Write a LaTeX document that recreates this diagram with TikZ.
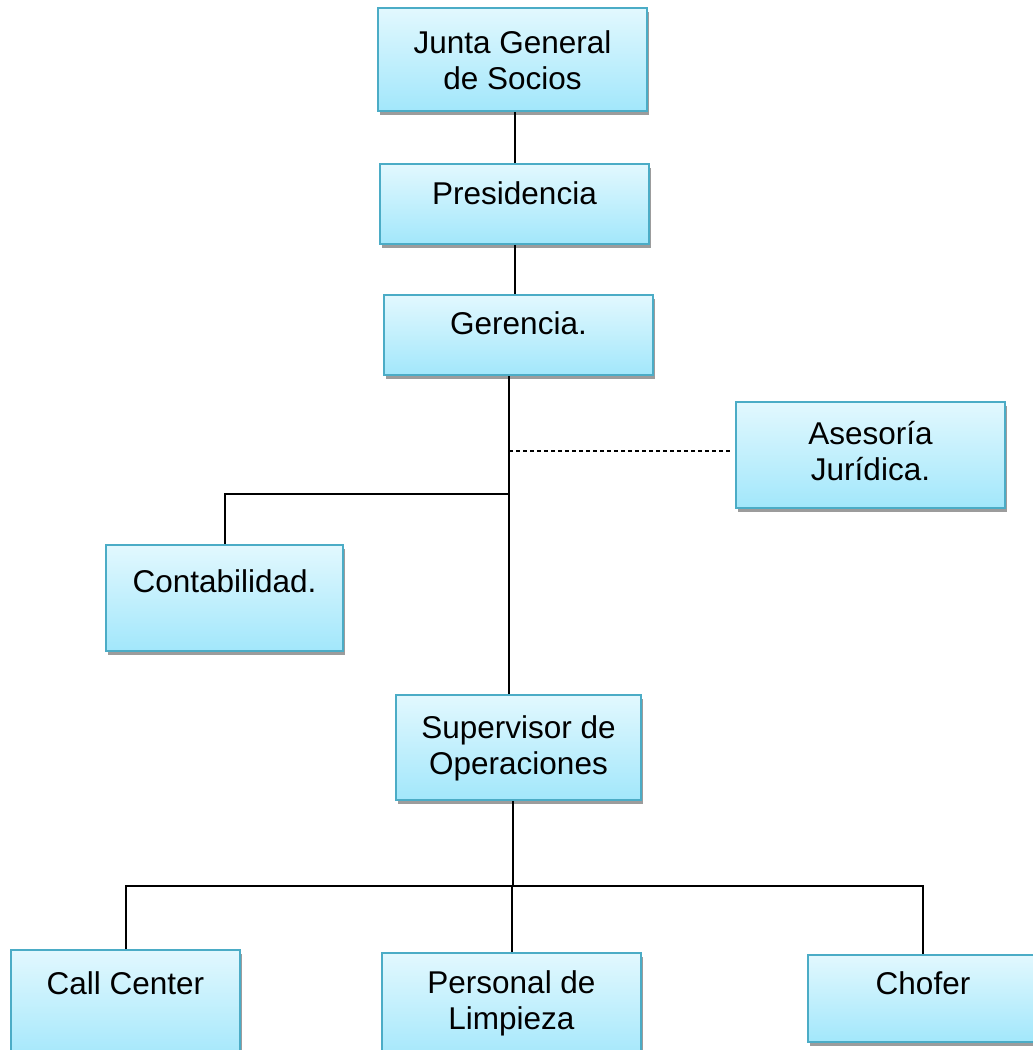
\documentclass[tikz,border=0pt]{standalone}
\usepackage{fontspec}
\setmainfont{Liberation Sans}
\usetikzlibrary{shadows}
\definecolor{boxtop}{HTML}{E2F8FE}
\definecolor{boxbot}{HTML}{A2E7FB}
\definecolor{boxline}{HTML}{4BACC6}
\definecolor{shade}{HTML}{9C9C9C}
\tikzset{
  orgbox/.style={rectangle, draw=boxline, line width=1.6pt, inner sep=0pt,
    top color=boxtop, bottom color=boxbot,
    drop shadow={shadow xshift=2pt, shadow yshift=-4pt, fill=shade, opacity=1}},
  boxtext/.style={anchor=base, align=center, inner sep=0pt,
    font=\fontsize{31.5}{36}\selectfont},
  link/.style={draw=black, line width=2pt},
  advice/.style={draw=black, line width=1.6pt, dash pattern=on 4pt off 3pt}
}
% place a box from its corners: #1 name, (#2,#3) top left, (#4,#5) bottom right
\newcommand{\orgunit}[5]{%
  \node[orgbox, minimum width={#4-#2}, minimum height={#5-#3}]
    (#1) at ({(#2+#4)/2},{(#3+#5)/2}) {};}
\begin{document}
\begin{tikzpicture}[x=1pt, y=-1pt]
\useasboundingbox (0,0) rectangle (1033,1050);
\clip (0,0) rectangle (1033,1050);

% boxes
\orgunit{junta}{378}{8}{647}{111}
\orgunit{pres}{380}{164}{649}{244}
\orgunit{ger}{384}{295}{653}{375}
\orgunit{ase}{736}{402}{1005}{508}
\orgunit{con}{106}{545}{343}{651}
\orgunit{sup}{396}{695}{641}{800}
\orgunit{call}{11}{950}{240}{1062}
\orgunit{lim}{382}{953}{641}{1062}
\orgunit{chof}{808}{955}{1038}{1042}

% labels (anchored on the baseline of the last line)
\node[boxtext] (tjunta) at ([yshift=-82pt]junta.north) {Junta General\\de Socios};
\node[boxtext] (tpres) at ([yshift=-41pt]pres.north) {Presidencia};
\node[boxtext] (tger) at ([yshift=-40pt]ger.north) {Gerencia.};
\node[boxtext] (tase) at ([yshift=-79pt]ase.north) {Asesoría\\Jurídica.};
\node[boxtext] (tcon) at ([yshift=-48pt]con.north) {Contabilidad.};
\node[boxtext] (tsup) at ([yshift=-80pt]sup.north) {Supervisor de\\Operaciones};
\node[boxtext] (tcall) at ([yshift=-45pt]call.north) {Call Center};
\node[boxtext] (tlim) at ([yshift=-77pt]lim.north) {Personal de\\Limpieza};
\node[boxtext] (tchof) at ([yshift=-40pt]chof.north) {Chofer};

% trunk points and buses
\coordinate (gtrunk) at ([xshift=-9.5pt]ger.south);
\coordinate (aseend) at ([yshift=4pt]ase.west);
\coordinate (cjunc) at (509,494);
\coordinate (strunk) at ([xshift=-5.5pt]sup.south);
\coordinate (bus) at (513,886);

% connectors
\draw[link] (pres.north) -- (pres.north |- junta.south);
\draw[link] (pres.south) -- (pres.south |- ger.north);
\draw[link] (gtrunk) -- (gtrunk |- sup.north);
\draw[advice, shorten >=4pt] (gtrunk |- aseend) -- (aseend);
\draw[link] (cjunc) -| (con.north);
\draw[link] (strunk) -- (strunk |- bus);
\draw[link] (call.north) -- (call.north |- bus) -- (chof.north |- bus) -- (chof.north);
\draw[link] (lim.north) -- (lim.north |- bus);
\end{tikzpicture}
\end{document}
